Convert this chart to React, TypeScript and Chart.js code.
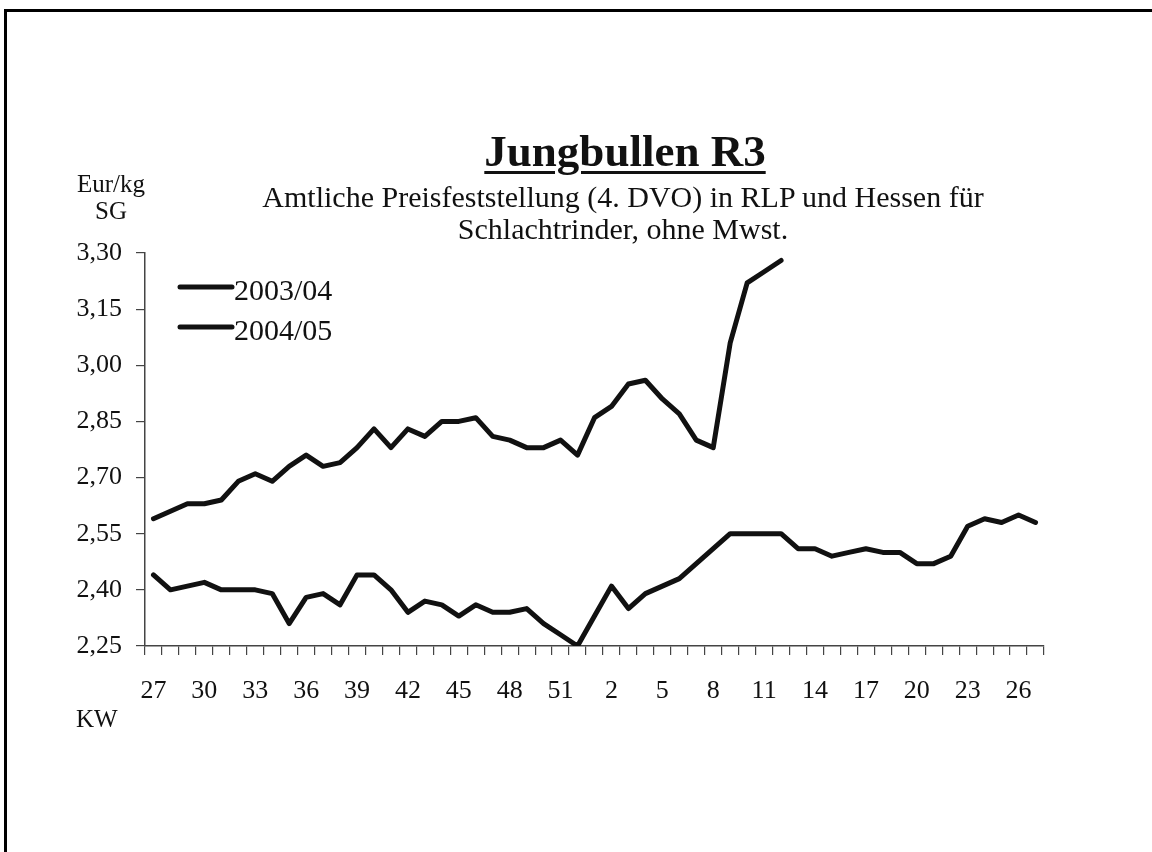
import React, { useEffect, useRef } from 'react';
import { Chart, registerables } from 'chart.js';

Chart.register(...registerables);

// Kalenderwochen (KW) 27 .. 52, 1 .. 27
const weeks = [
  '27', '28', '29', '30', '31', '32', '33', '34', '35', '36', '37', '38', '39',
  '40', '41', '42', '43', '44', '45', '46', '47', '48', '49', '50', '51', '52',
  '1', '2', '3', '4', '5', '6', '7', '8', '9', '10', '11', '12', '13',
  '14', '15', '16', '17', '18', '19', '20', '21', '22', '23', '24', '25', '26', '27',
];

// 2003/04 (KW 27/2003 .. KW 27/2004)
const series2003_04 = [
  2.44, 2.40, 2.41, 2.42, 2.40, 2.40, 2.40, 2.39, 2.31, 2.38, 2.39, 2.36, 2.44,
  2.44, 2.40, 2.34, 2.37, 2.36, 2.33, 2.36, 2.34, 2.34, 2.35, 2.31, 2.28, 2.25,
  2.33, 2.41, 2.35, 2.39, 2.41, 2.43, 2.47, 2.51, 2.55, 2.55, 2.55, 2.55, 2.51,
  2.51, 2.49, 2.50, 2.51, 2.50, 2.50, 2.47, 2.47, 2.49, 2.57, 2.59, 2.58, 2.60, 2.58,
];

// 2004/05 (KW 27/2004 .. KW 12/2005)
const series2004_05 = [
  2.59, 2.61, 2.63, 2.63, 2.64, 2.69, 2.71, 2.69, 2.73, 2.76, 2.73, 2.74, 2.78,
  2.83, 2.78, 2.83, 2.81, 2.85, 2.85, 2.86, 2.81, 2.80, 2.78, 2.78, 2.80, 2.76,
  2.86, 2.89, 2.95, 2.96, 2.91, 2.87, 2.80, 2.78, 3.06, 3.22, 3.25, 3.28,
];

const seriesLabels = ['2003/04', '2004/05'];
const yMin = 2.25;
const yMax = 3.30;
const yStep = 0.15;

const W = 1152;
const H = 852;
const AREA = { left: 145, top: 253, right: 1044, bottom: 646 };
const SERIF = "'Liberation Serif', 'Times New Roman', serif";

const inlineLegend = {
  id: 'inlineLegend',
  afterDraw(chart: any) {
    const ctx = chart.ctx;
    const area = chart.chartArea;
    ctx.save();
    chart.data.datasets.forEach((ds: any, i: number) => {
      const y = area.top + 34 + i * 40;
      ctx.strokeStyle = ds.borderColor;
      ctx.lineWidth = 5;
      ctx.lineCap = 'round';
      ctx.beginPath();
      ctx.moveTo(area.left + 35, y);
      ctx.lineTo(area.left + 87, y);
      ctx.stroke();
      ctx.fillStyle = '#111';
      ctx.font = `30px ${SERIF}`;
      ctx.textBaseline = 'middle';
      ctx.textAlign = 'left';
      ctx.fillText(ds.label, area.left + 89, y + 5);
    });
    ctx.restore();
  },
};

export default function App() {
  const ref = useRef<HTMLCanvasElement>(null);

  useEffect(() => {
    if (!ref.current) return;
    const axisColor = '#444';
    const lineStyle = {
      borderColor: '#111',
      borderWidth: 5,
      pointRadius: 0,
      tension: 0,
      borderCapStyle: 'round' as const,
      borderJoinStyle: 'round' as const,
      fill: false,
    };
    const chart = new Chart(ref.current, {
      type: 'line',
      data: {
        labels: weeks,
        datasets: [
          { label: seriesLabels[0], data: series2003_04, ...lineStyle },
          { label: seriesLabels[1], data: series2004_05, ...lineStyle },
        ],
      },
      options: {
        responsive: false,
        animation: false,
        events: [],
        layout: {
          padding: {
            left: 0,
            top: AREA.top,
            right: W - AREA.right,
            bottom: H - AREA.bottom - 100,
          },
        },
        plugins: {
          legend: { display: false },
          tooltip: { enabled: false },
          title: { display: false },
        },
        scales: {
          x: {
            type: 'category',
            offset: true,
            grid: {
              offset: true,
              drawOnChartArea: false,
              drawTicks: true,
              tickLength: 9,
              color: axisColor,
              lineWidth: 1.2,
            },
            border: { display: true, color: axisColor, width: 1.5 },
            ticks: {
              autoSkip: false,
              maxRotation: 0,
              minRotation: 0,
              padding: 21,
              color: '#111',
              font: { family: SERIF, size: 26 },
              callback: (_v: any, i: number) => (i % 3 === 0 ? weeks[i] : ''),
            },
            afterFit: (s: any) => {
              s.height = 100;
            },
          },
          y: {
            type: 'linear',
            min: yMin,
            max: yMax,
            grid: {
              drawOnChartArea: false,
              drawTicks: true,
              tickLength: 9,
              color: axisColor,
              lineWidth: 1.2,
            },
            border: { display: true, color: axisColor, width: 1.5 },
            ticks: {
              stepSize: yStep,
              padding: 14,
              color: '#111',
              font: { family: SERIF, size: 26 },
              callback: (v: any) => Number(v).toFixed(2).replace('.', ','),
            },
            afterFit: (s: any) => {
              s.width = AREA.left;
            },
          },
        },
      },
      plugins: [inlineLegend],
    });
    return () => chart.destroy();
  }, []);

  const abs = (o: React.CSSProperties): React.CSSProperties => ({
    position: 'absolute',
    fontFamily: SERIF,
    color: '#111',
    whiteSpace: 'nowrap',
    margin: 0,
    ...o,
  });

  return (
    <div
      style={{
        position: 'fixed',
        left: 0,
        top: 0,
        width: W,
        height: H,
        background: '#fff',
        overflow: 'hidden',
      }}
    >
      <div
        style={{
          position: 'absolute',
          left: 4,
          top: 9,
          width: W,
          height: H,
          borderLeft: '3px solid #000',
          borderTop: '3px solid #000',
        }}
      />
      <canvas
        ref={ref}
        width={W}
        height={H}
        style={{ position: 'absolute', left: 0, top: 0, width: W, height: H, display: 'block' }}
      />
      <div
        style={abs({
          left: 325,
          top: 129,
          width: 600,
          textAlign: 'center',
          fontSize: 45,
          lineHeight: '45px',
          fontWeight: 'bold',
          textDecoration: 'underline',
          textDecorationThickness: '3px',
          textUnderlineOffset: '5px',
        })}
      >
        Jungbullen R3
      </div>
      <div
        style={abs({
          left: 223,
          top: 181,
          width: 800,
          textAlign: 'center',
          fontSize: 30,
          lineHeight: '32px',
        })}
      >
        Amtliche Preisfeststellung (4. DVO) in RLP und Hessen für
        <br />
        Schlachtrinder, ohne Mwst.
      </div>
      <div
        style={abs({
          left: 61,
          top: 170,
          width: 100,
          textAlign: 'center',
          fontSize: 25,
          lineHeight: '27px',
        })}
      >
        Eur/kg
        <br />
        SG
      </div>
      <div style={abs({ left: 76, top: 706, fontSize: 25, lineHeight: '25px' })}>KW</div>
    </div>
  );
}
